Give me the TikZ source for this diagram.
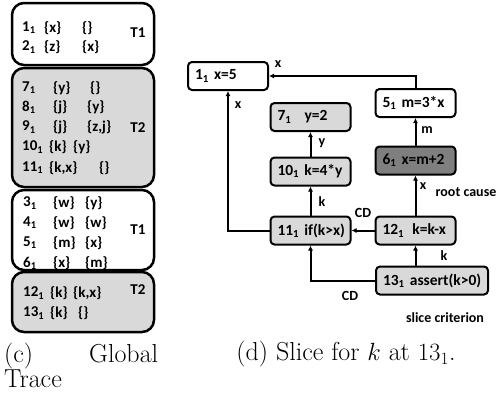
\documentclass[tikz,border=0pt]{standalone}
\usepackage{fontspec}
\usetikzlibrary{arrows.meta}
\newfontfamily\calfont{Carlito}
\definecolor{lightfill}{HTML}{D9D9D9}
\definecolor{darkfill}{HTML}{7F7F7F}
\newcommand\ix[1]{#1\textsubscript{1}}
\newcommand\stm[2]{\mbox{\ix{#1} #2}}

\begin{document}
\begin{tikzpicture}[x=1pt, y=-1pt,
		>={Latex[length=5pt,width=5pt]},
		every node/.style={font=\calfont\bfseries\fontsize{15}{18}\selectfont},
		stmt/.style={draw, rounded corners=4pt, line width=2pt, minimum height=28pt, inner xsep=7pt, text width=66pt, align=left, font=\calfont\bfseries\fontsize{15.5}{18}\selectfont},
		hot/.style={stmt, fill=lightfill},
		tag/.style={font=\calfont\bfseries\fontsize{14}{16}\selectfont},
		cell/.style={anchor=west, inner sep=0pt},
		caption/.style={font=\fontsize{26}{23}\selectfont}]
		\useasboundingbox (0,0) rectangle (501,394);
		
		% global trace
		\begin{scope}[line width=2.5pt, rounded corners=12pt]
			\draw (12,3) rectangle (154,65);
			\draw [fill = lightfill] (12,68) rectangle (154,187);
			\draw (12,190) rectangle (154,270);
			\draw [fill = lightfill] (12,272) rectangle (154,332);
		\end{scope}
		
		\foreach \xa/\y/\a/\xb/\b/\xc/\c in {
				22/28/1/44/\{x\}/82/\{\}, 22/47/2/44/\{z\}/82/\{x\},
				22/88/7/53/\{y\}/90/\{\}, 22/107/8/53/\{j\}/87/\{y\},
				22/127/9/53/\{j\}/87/{\{z,j\}}, 22/147/10/49/\{k\}/73/\{y\},
				22/168/11/49/{\{k,x\}}/99/\{\},
				23/203/3/53/\{w\}/85/\{y\}, 23/223/4/53/\{w\}/85/\{w\},
				23/243/5/53/\{m\}/85/\{x\}, 23/263/6/53/\{x\}/85/\{m\},
				23/293/12/50/\{k\}/73/{\{k,x\}}, 23/313/13/50/\{k\}/78/\{\}}
		{
			\node [cell] (r\a) at (\xa,\y) {\ix{\a}};
			\node [cell] (r\a b) at (\xb,\y) {\b};
			\node [cell] (r\a c) at (\xc,\y) {\c};
		}
		
		\node (ta) at (138,33) {T1};
		\node (tb) at (138,128) {T2};
		\node (tc) at (138,230) {T1};
		\node (td) at (138,290) {T2};
		
		\node [caption, text width=154pt, align=left, inner sep=0pt, anchor=north west] (capc) at (4,343) {(c)\hfill Global\\Trace};
		
		% slice
		\node [stmt] (n1) at (228,76) {\stm{1}{x=5}};
		\node [stmt] (n5) at (415.5,103) {\stm{5}{m=3*x}};
		\node [stmt, fill = darkfill] (n6) at (415.5,160.5) {\stm{6}{x=m+2}};
		\node [hot] (n7) at (310.5,117) {\stm{7}{\hspace{8pt}y=2}};
		\node [hot] (n10) at (310.5,171.5) {\stm{10}{k=4*y}};
		\node [hot] (n11) at (310.5,230.5) {\stm{11}{if(k>x)}};
		\node [hot] (n12) at (415.5,230.5) {\stm{12}{\hspace{3pt}k=k-x}};
		\node [hot, text width=98pt] (n13) at (432,280.5) {\stm{13}{assert(k>0)}};
		
		\begin{scope}[line width=2pt]
			\draw [->] (n5.north) |- (n1.east);
			\draw [->] (n6) -- (n5);
			\draw [->] (n12) -- (n6);
			\draw [->] (n10) -- (n7);
			\draw [->] (n11) -- (n10);
			\draw [->] (n12) -- (n11);
			\draw [->] (n13.north -| n12) -- (n12.south);
			\draw [->] (n13.west) -| (n11.south);
			\draw [->] (n11.west) -| (n1.south);
		\end{scope}
		
		\begin{scope}
			\node [tag] (lx1) at (278,64) {x};
			\node [tag] (lm) at (427,130) {m};
			\node [tag] (lx2) at (423,186) {x};
			\node [tag] (lroot) at (466,192) {root cause};
			\node [tag] (ly) at (322,143) {y};
			\node [tag] (lk1) at (322,202) {k};
			\node [tag] (lx3) at (238,105) {x};
			\node [tag] (lcd1) at (363,213) {CD};
			\node [tag] (lk2) at (444,256) {k};
			\node [tag] (lcd2) at (350,296) {CD};
			\node [tag] (lslice) at (445,318) {slice criterion};
		\end{scope}
		
		\node [caption] (capd) at (346,354) {(d) Slice for $k$ at $13_1$.};
	\end{tikzpicture}
\end{document}
